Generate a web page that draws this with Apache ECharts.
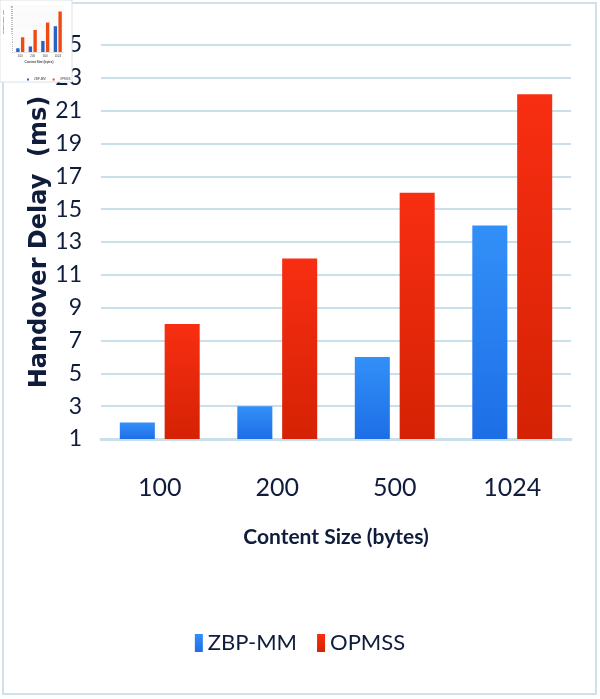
<!DOCTYPE html>
<html>
<head>
<meta charset="utf-8">
<script src="https://cdn.jsdelivr.net/npm/echarts@6/dist/echarts.min.js"></script>
<style>
html,body{margin:0;padding:0;background:#fff;}
#chart{width:600px;height:699px;}
</style>
</head>
<body>
<div id="chart"></div>
<script>
var categories = ['100', '200', '500', '1024'];
var zbpMM = [2, 3, 6, 14];
var opmss = [8, 12, 16, 22];
var seriesNames = ['ZBP-MM', 'OPMSS'];
var yTitle = 'Handover Delay  (ms)';
var xTitle = 'Content Size (bytes)';

var narrow = "Lato, 'Liberation Sans', sans-serif";
var navy = '#101c3c';
var blueGrad = new echarts.graphic.LinearGradient(0, 0, 0, 1, [
  {offset: 0, color: '#3390f8'}, {offset: 1, color: '#1d6ee6'}]);
var redGrad = new echarts.graphic.LinearGradient(0, 0, 0, 1, [
  {offset: 0, color: '#f82e12'}, {offset: 1, color: '#d52204'}]);

var chart = echarts.init(document.getElementById('chart'), null, {renderer: 'canvas'});
chart.setOption({
  backgroundColor: '#ffffff',
  animation: false,
  graphic: [
    {type: 'rect', z: 0, shape: {x: 3, y: 3, width: 593, height: 691},
     style: {fill: 'none', stroke: '#cfe2ec', lineWidth: 2}},
    {type: 'rect', z: 20, shape: {x: 0, y: 0, width: 72, height: 82},
     style: {fill: '#ffffff', stroke: '#d9e2e8', lineWidth: 1}},
    {type: 'text', z: 25, left: 2, top: 10, rotation: Math.PI / 2,
     style: {text: yTitle, fontSize: 2.5, fill: '#333', font: 'bold 2.5px sans-serif'}}
  ],
  legend: [
    {
      data: seriesNames.slice(),
      left: 'center', top: 627,
      itemWidth: 8, itemHeight: 18, itemGap: 20,
      icon: 'rect',
      textStyle: {fontFamily: narrow, fontSize: 22, color: navy, padding: [0, 0, 0, 0]}
    },
    {
      data: seriesNames.map(function (n) { return n + ' '; }),
      left: 22, top: 73, itemWidth: 2, itemHeight: 2, itemGap: 6, z: 25,
      icon: 'rect',
      textStyle: {fontSize: 3, color: '#444'}
    }
  ],
  grid: [
    {left: 101, right: 29, top: 45, bottom: 260},
    {left: 14, top: 6, width: 50, height: 46, z: 25}
  ],
  xAxis: [
    {
      type: 'category', gridIndex: 0, data: categories,
      axisLine: {lineStyle: {color: '#c9dfe9', width: 3}},
      axisTick: {show: false},
      axisLabel: {fontFamily: narrow, fontSize: 25, color: navy, margin: 36},
      name: xTitle, nameLocation: 'middle', nameGap: 88, nameMoveOverlap: false,
      nameTextStyle: {fontFamily: narrow, fontWeight: 'bold', fontSize: 21, color: navy}
    },
    {
      type: 'category', gridIndex: 1, data: categories, z: 25,
      axisLine: {lineStyle: {color: '#ccc', width: 0.5}},
      axisTick: {show: false},
      axisLabel: {fontSize: 3, color: '#444', margin: 3},
      name: xTitle, nameLocation: 'middle', nameGap: 9, nameMoveOverlap: false,
      nameTextStyle: {fontSize: 3, color: '#444', fontWeight: 'bold'}
    }
  ],
  yAxis: [
    {
      type: 'value', gridIndex: 0, min: 1, max: 25, interval: 2,
      axisLine: {show: false}, axisTick: {show: false},
      splitLine: {lineStyle: {color: '#c9dfe9', width: 2}},
      axisLabel: {fontFamily: narrow, fontSize: 23, color: navy, margin: 19},
      name: yTitle, nameLocation: 'middle', nameGap: 49, nameMoveOverlap: false,
      nameTextStyle: {fontFamily: "'DejaVu Sans', sans-serif", fontWeight: 'bold', fontSize: 24, color: navy}
    },
    {
      type: 'value', gridIndex: 1, min: 0, max: 25, interval: 1, z: 25,
      axisLine: {show: false}, axisTick: {show: false},
      splitLine: {lineStyle: {color: '#e4e4e4', width: 0.3}},
      axisLabel: {fontSize: 2, color: '#666', margin: 1}
    }
  ],
  series: [
    {name: seriesNames[0], type: 'bar', xAxisIndex: 0, yAxisIndex: 0, data: zbpMM,
     barGap: '28%', barCategoryGap: '32%', itemStyle: {color: blueGrad}},
    {name: seriesNames[1], type: 'bar', xAxisIndex: 0, yAxisIndex: 0, data: opmss,
     barGap: '28%', barCategoryGap: '32%', itemStyle: {color: redGrad}},
    {name: seriesNames[0] + ' ', type: 'bar', xAxisIndex: 1, yAxisIndex: 1, data: zbpMM, z: 26,
     barGap: '40%', barCategoryGap: '35%', itemStyle: {color: '#2a62c8'}},
    {name: seriesNames[1] + ' ', type: 'bar', xAxisIndex: 1, yAxisIndex: 1, data: opmss, z: 26,
     barGap: '40%', barCategoryGap: '35%', itemStyle: {color: '#ef4a12'}}
  ]
});
</script>
</body>
</html>
